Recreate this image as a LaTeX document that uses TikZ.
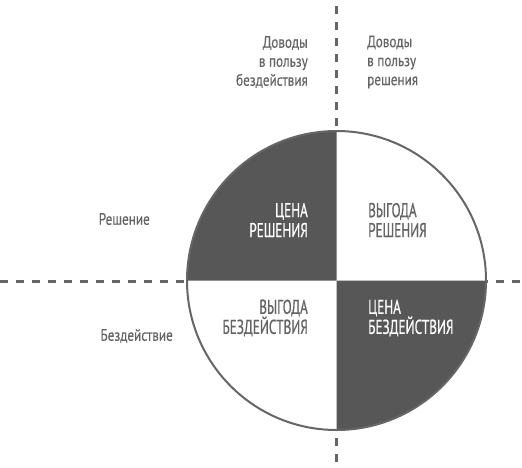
\documentclass[tikz,border=0pt]{standalone}
\usepackage{fontspec}
\setmainfont{PT Sans}[FakeStretch=0.8,FakeBold=0.4]
\newfontfamily\innerf{PT Sans}[FakeStretch=0.66,FakeBold=0.7]
\definecolor{darkq}{HTML}{575757}
\definecolor{txt}{HTML}{646464}
\definecolor{rim}{HTML}{666666}
\begin{document}
\begin{tikzpicture}[x=1pt,y=-1pt,
  dashline/.style={draw=rim,line width=3pt,dash pattern=on 8pt off 8pt},
  outer/.style={text=txt,font=\fontsize{16.5}{19}\selectfont,inner sep=0pt},
  inner/.style={font=\innerf\fontsize{20}{20}\selectfont,inner sep=0pt},
]
\useasboundingbox (0,0) rectangle (522,467);
\coordinate (c) at (336.5,280.5);
\coordinate (L) at (0,281);
\coordinate (R) at (522,281);
\coordinate (T) at (336.5,-10);
\coordinate (B) at (336.5,467);
\draw[dashline] (L) -- (R);
\draw[dashline] (T) -- (B);
\fill[white] (c) circle (149.5);
\fill[darkq] (c) -- ++(-149.5,0) arc[start angle=180,end angle=270,radius=149.5] -- cycle;
\fill[darkq] (c) -- ++(149.5,0) arc[start angle=0,end angle=90,radius=149.5] -- cycle;
\draw[rim,line width=2pt] (c) circle (149.5);
\node[outer,align=right,anchor=east] (a1) at (308,62) {Доводы\\в пользу\\бездействия};
\node[outer,align=left,anchor=west] (a2) at (367,62) {Доводы\\в пользу\\решения};
\node[outer,anchor=east] (r) at (150,219) {Решение};
\node[outer,anchor=east] (b) at (173,336) {Бездействие};
\node[inner,text=white,align=right,anchor=east] (q1) at (308,220) {ЦЕНА\\РЕШЕНИЯ};
\node[inner,text=txt,align=left,anchor=west] (q2) at (368,220) {ВЫГОДА\\РЕШЕНИЯ};
\node[inner,text=txt,align=right,anchor=east] (q3) at (308,318) {ВЫГОДА\\БЕЗДЕЙСТВИЯ};
\node[inner,text=white,align=left,anchor=west] (q4) at (368,318) {ЦЕНА\\БЕЗДЕЙСТВИЯ};
\end{tikzpicture}
\end{document}
